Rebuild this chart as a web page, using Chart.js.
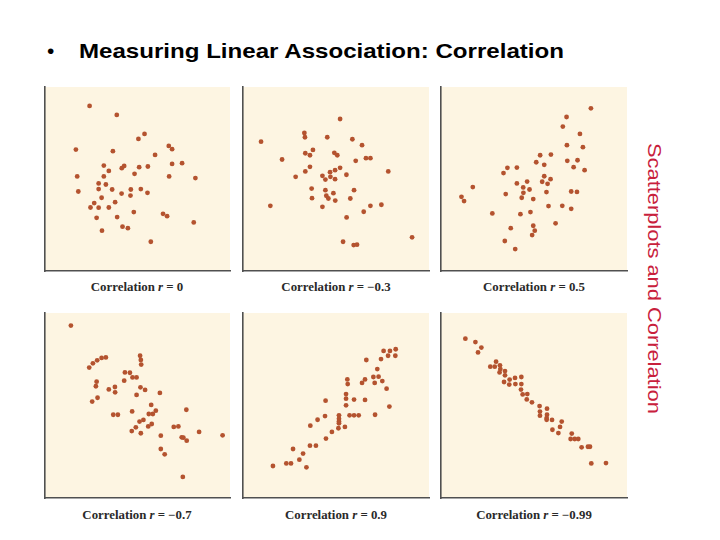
<!DOCTYPE html>
<html>
<head>
<meta charset="utf-8">
<script src="https://cdn.jsdelivr.net/npm/chart.js@4"></script>
<style>
  html, body { margin:0; padding:0; background:#ffffff; width:720px; height:540px; overflow:hidden; }
  #stage { position:relative; width:720px; height:540px; }
  canvas { position:absolute; }
  .title { position:absolute; left:79px; top:40px; font-family:"Liberation Sans", Arial, sans-serif; font-weight:bold; font-size:21px; line-height:21px; color:#000; white-space:nowrap; transform-origin:0 0; transform:scaleX(1.147); }
  .bullet { position:absolute; left:47px; top:40px; font-family:"Liberation Sans", Arial, sans-serif; font-size:21px; line-height:21px; color:#000; }
  .side { position:absolute; left:664px; top:143px; transform-origin:0 0; transform:rotate(90deg) scaleX(1.15); font-family:"Liberation Sans", Arial, sans-serif; font-size:19px; line-height:19px; color:#c8203c; white-space:nowrap; }
  .cap { position:absolute; width:200px; text-align:center; font-family:"Liberation Serif", "Times New Roman", serif; font-weight:bold; font-size:12px; line-height:14px; color:#2a2a2a; white-space:nowrap; transform:scaleX(1.07); }
</style>
</head>
<body>
<div id="stage">
  <div class="bullet">•</div>
  <div class="title">Measuring Linear Association: Correlation</div>
  <div class="side">Scatterplots and Correlation</div>
</div>
<script>
// ---- data (x, y on a 0-100 scale for each panel) ----
const captions = ["0", "\u22120.3", "0.5", "\u22120.7", "0.9", "\u22120.99"];

const ptsR0 = [[24.1,89.7],[38.8,84.8],[53.8,74.5],[50.5,71.8],[16.7,66.0],[36.7,65.1],[66.9,68.0],[68.7,66.2],[59.5,63.1],[31.8,57.3],[34.5,54.4],[41.5,55.9],[42.8,57.1],[50.9,56.4],[55.6,56.8],[68.7,58.2],[74.1,58.6],[17.4,51.4],[31.8,51.4],[48.4,52.8],[67.1,51.4],[81.3,50.5],[29.0,47.6],[32.9,47.0],[18.0,43.2],[29.0,44.5],[36.3,44.3],[41.4,42.1],[46.4,44.3],[46.2,41.0],[51.8,44.5],[55.4,42.5],[30.6,39.8],[37.9,37.4],[26.6,36.9],[24.6,34.5],[29.0,34.4],[34.5,34.5],[48.0,32.0],[63.8,31.1],[66.0,29.8],[27.9,28.9],[39.0,29.3],[80.4,26.4],[41.9,24.1],[44.8,23.3],[30.8,21.9],[57.2,15.9]];

const ptsRm03 = [[52.2,82.6],[33.0,75.0],[33.3,72.7],[45.3,72.7],[9.7,70.3],[58.8,71.6],[64.0,68.4],[37.6,65.8],[33.5,64.0],[36.0,62.9],[49.1,64.2],[50.7,62.9],[21.0,60.6],[66.1,61.3],[68.5,61.3],[60.6,59.9],[36.0,56.6],[52.2,56.1],[49.5,54.8],[33.5,54.1],[46.8,53.7],[78.1,54.1],[28.3,51.2],[42.7,51.7],[47.0,51.2],[55.6,52.3],[44.3,49.7],[49.5,49.9],[36.9,44.8],[44.3,43.9],[59.7,43.9],[48.6,42.3],[44.8,40.9],[45.9,39.4],[37.1,39.6],[49.6,38.3],[57.7,39.4],[14.7,35.4],[42.7,34.9],[68.5,35.4],[74.4,36.0],[64.9,32.2],[55.7,29.1],[90.9,18.3],[53.8,15.9],[59.5,14.1],[61.3,14.3]];

const ptsR05 = [[80.6,88.4],[67.5,83.7],[65.5,78.5],[74.7,74.5],[67.7,68.4],[76.3,67.3],[53.3,62.9],[59.1,63.3],[51.2,59.1],[55.5,57.7],[67.9,59.9],[73.4,60.2],[71.3,56.4],[77.2,54.8],[35.7,56.1],[40.8,56.2],[33.6,53.2],[55.5,51.5],[58.9,49.9],[46.3,48.6],[54.4,48.5],[57.3,47.4],[40.8,47.6],[44.2,45.4],[47.6,44.3],[17.1,45.6],[44.3,42.5],[56.7,42.9],[70.0,43.2],[73.1,43.0],[34.8,41.8],[43.4,39.8],[49.6,39.1],[11.0,40.3],[12.4,38.0],[57.8,35.3],[65.2,35.4],[70.0,33.8],[27.6,31.3],[42.7,30.9],[48.1,32.0],[61.6,25.9],[49.6,24.6],[37.5,23.3],[50.4,21.9],[49.0,19.5],[34.3,16.3],[39.9,11.9]];

const ptsRm07 = [[14.0,93.2],[51.4,76.9],[51.8,74.6],[52.0,72.1],[32.9,76.0],[30.6,75.7],[28.2,74.4],[25.9,72.8],[23.9,70.5],[43.2,67.9],[45.9,67.7],[47.3,65.2],[49.5,65.2],[42.8,63.4],[27.9,62.9],[27.5,60.4],[34.5,58.7],[37.8,60.0],[37.9,57.1],[51.6,59.8],[54.1,58.4],[49.5,55.7],[62.1,56.8],[28.4,54.2],[25.5,52.1],[57.4,50.3],[59.9,47.2],[47.1,46.8],[56.1,45.4],[58.3,45.4],[36.9,45.0],[39.4,45.0],[76.4,47.7],[53.2,42.2],[51.1,41.3],[57.7,40.0],[55.8,38.7],[49.1,38.2],[69.6,38.4],[72.1,38.7],[46.9,36.2],[51.8,35.0],[83.3,35.7],[96.0,33.9],[62.6,33.7],[73.9,32.8],[74.8,32.6],[76.6,31.0],[62.6,26.5],[64.7,23.6],[74.5,11.4]];

const ptsR09 = [[75.6,79.5],[79.0,79.5],[82.1,80.4],[78.0,76.9],[81.9,76.9],[74.2,75.1],[66.3,74.6],[72.2,69.7],[70.1,65.4],[72.9,65.6],[65.6,64.1],[64.0,62.2],[70.8,62.2],[74.9,63.2],[56.1,64.1],[56.3,61.6],[77.2,59.1],[55.4,56.2],[55.4,53.7],[59.7,53.2],[65.6,53.0],[44.4,52.6],[55.4,50.1],[78.7,49.4],[51.6,44.7],[57.3,44.7],[59.7,44.7],[62.2,44.7],[71.0,45.0],[44.1,44.3],[51.6,42.9],[51.6,41.4],[51.6,40.4],[40.1,42.3],[36.2,39.1],[54.8,38.4],[51.3,37.7],[47.8,35.7],[44.6,32.1],[36.0,28.3],[39.2,28.3],[26.9,26.5],[32.3,24.0],[30.3,20.7],[23.3,18.7],[25.8,18.7],[16.1,17.3],[34.1,16.6]];

const ptsRm099 = [[13.1,86.1],[18.5,84.3],[21.7,81.3],[19.9,78.7],[29.6,73.7],[26.5,71.0],[28.9,71.0],[31.7,71.7],[31.9,69.7],[34.4,68.6],[31.5,67.9],[34.4,66.3],[36.9,64.0],[39.8,64.9],[43.2,65.4],[33.9,62.7],[36.7,61.3],[40.0,61.6],[43.2,61.6],[43.0,58.6],[43.9,56.0],[46.4,56.2],[46.1,53.3],[48.9,51.7],[53.0,49.7],[57.0,48.3],[53.2,46.7],[57.0,45.0],[53.2,44.5],[56.8,43.2],[56.8,42.3],[59.7,42.2],[64.9,41.3],[64.0,38.4],[59.9,36.9],[63.1,35.1],[70.3,34.8],[69.7,31.9],[71.9,31.9],[73.8,31.9],[75.6,27.4],[79.0,27.7],[80.1,27.7],[80.8,18.7],[88.7,18.9]];

const panelData = [ptsR0, ptsRm03, ptsR05, ptsRm07, ptsR09, ptsRm099];

// ---- layout ----
const cols = [[44.7, 230], [242.7, 428.7], [441, 627]];
const rows = [[87, 271, 280], [313, 498, 508]];
const PAD = 4;

const bgPlugin = {
  id: 'panelBg',
  beforeDraw(chart) {
    const {ctx, chartArea:a} = chart;
    ctx.save();
    ctx.fillStyle = '#fdf5e2';
    ctx.fillRect(a.left, a.top, a.right - a.left, a.bottom - a.top);
    ctx.restore();
  }
};

const stage = document.getElementById('stage');
panelData.forEach((pts, i) => {
  const c = cols[i % 3], r = rows[Math.floor(i / 3)];
  const w = c[1] - c[0], h = r[1] - r[0];
  const cv = document.createElement('canvas');
  cv.width = Math.round(w + 2 * PAD);
  cv.height = Math.round(h + 2 * PAD);
  cv.style.left = (c[0] - PAD) + 'px';
  cv.style.top = (r[0] - PAD) + 'px';
  cv.style.width = cv.width + 'px';
  cv.style.height = cv.height + 'px';
  stage.appendChild(cv);

  new Chart(cv, {
    type: 'scatter',
    data: { datasets: [{
      data: pts.map(p => ({x: p[0], y: p[1]})),
      backgroundColor: '#b4532f',
      borderWidth: 0,
      pointRadius: 2.4,
      pointHoverRadius: 2.4
    }]},
    options: {
      responsive: false,
      devicePixelRatio: 1,
      animation: false,
      events: [],
      layout: { padding: PAD },
      plugins: { legend: {display:false}, tooltip: {enabled:false}, title: {display:false} },
      scales: {
        x: { type:'linear', min:0, max:100,
             ticks:{display:false}, grid:{display:false, drawTicks:false},
             border:{display:true, color:'#505050', width:1.6},
             afterFit: s => { s.height = 0; } },
        y: { type:'linear', min:0, max:100,
             ticks:{display:false}, grid:{display:false, drawTicks:false},
             border:{display:true, color:'#505050', width:1.6},
             afterFit: s => { s.width = 0; } }
      }
    },
    plugins: [bgPlugin]
  });

  const cap = document.createElement('div');
  cap.className = 'cap';
  cap.style.left = ((c[0] + c[1]) / 2 - 100) + 'px';
  cap.style.top = r[2] + 'px';
  cap.innerHTML = 'Correlation <i>r</i> = ' + captions[i];
  stage.appendChild(cap);
});
</script>
</body>
</html>
